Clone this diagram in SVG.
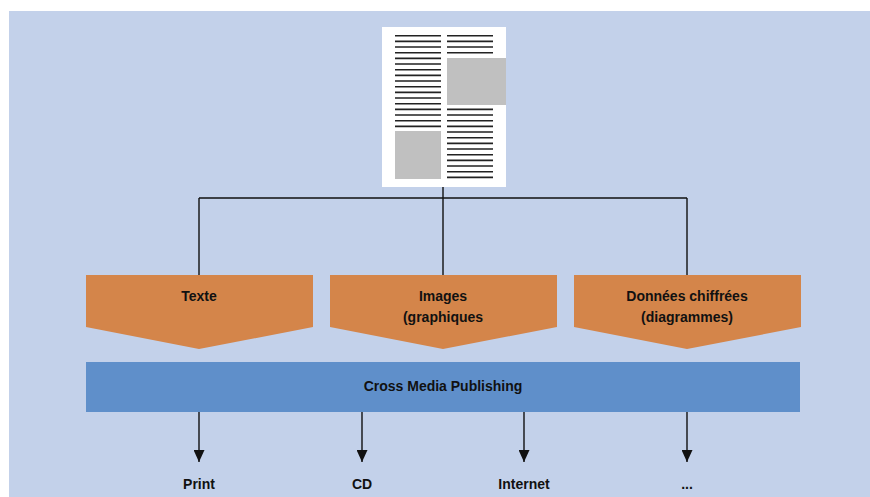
<svg xmlns="http://www.w3.org/2000/svg" width="870" height="497" viewBox="0 0 870 497">
<defs>
<style>
.lbl{font-family:"Liberation Sans",Arial,sans-serif;font-weight:bold;font-size:14px;fill:#111;text-anchor:middle}
.conn{stroke:#111;stroke-width:1.4;fill:none}
.shape{fill:#d4854a}
.tl{stroke:#222;stroke-width:1.6}
.img{fill:#c0c0c0}
</style>
<marker id="ah" viewBox="0 0 12 11" refX="12" refY="5.5" markerWidth="12" markerHeight="11" markerUnits="userSpaceOnUse" orient="auto">
<path d="M0,0 L12,5.5 L0,11 Z" fill="#111"/>
</marker>
</defs>
<rect x="0" y="0" width="870" height="497" fill="#ffffff"/>
<rect x="9" y="11" width="861" height="486" fill="#c3d1ea"/>

<g id="document">
<rect x="382" y="27" width="124" height="160" fill="#ffffff"/>
<rect class="img" x="447" y="58" width="59" height="47"/>
<rect class="img" x="395" y="131" width="46" height="48"/>
<path class="tl" d="M395,35.7h46M395,41.4h46M395,47h46M395,52.7h46M395,58.4h46M395,64h46M395,69.7h46M395,75.4h46M395,81h46M395,86.7h46M395,92.4h46M395,98h46M395,103.7h46M395,109.4h46M395,115h46M395,120.7h46M395,126.4h46"/>
<path class="tl" d="M447,35.7h46M447,41.4h46M447,47h46M447,52.7h46"/>
<path class="tl" d="M447,109.4h46M447,115h46M447,120.7h46M447,126.4h46M447,132h46M447,137.7h46M447,143.4h46M447,149h46M447,154.7h46M447,160.4h46M447,166h46M447,171.7h46M447,177.4h46"/>
</g>

<g id="connectors">
<path class="conn" d="M443,187V198M199,198H687M199,198V275M443,198V275M687,198V275"/>
<path class="conn" d="M199,412V462" marker-end="url(#ah)"/>
<path class="conn" d="M362,412V462" marker-end="url(#ah)"/>
<path class="conn" d="M524,412V462" marker-end="url(#ah)"/>
<path class="conn" d="M687,412V462" marker-end="url(#ah)"/>
</g>

<g id="texte">
<path class="shape" d="M86,275H313V327L199,349L86,327Z"/>
<text class="lbl" x="199" y="301">Texte</text>
</g>
<g id="images">
<path class="shape" d="M330,275H557V327L443,349L330,327Z"/>
<text class="lbl" x="443" y="301">Images</text>
<text class="lbl" x="443" y="322">(graphiques</text>
</g>
<g id="donnees">
<path class="shape" d="M574,275H801V327L687,349L574,327Z"/>
<text class="lbl" x="687" y="301">Données chiffrées</text>
<text class="lbl" x="687" y="322">(diagrammes)</text>
</g>

<g id="cmp">
<rect x="86" y="362" width="714" height="50" fill="#5f8fca"/>
<text class="lbl" x="443" y="391">Cross Media Publishing</text>
</g>

<g id="print"><text class="lbl" x="199" y="489">Print</text></g>
<g id="cd"><text class="lbl" x="362" y="489">CD</text></g>
<g id="internet"><text class="lbl" x="524" y="489">Internet</text></g>
<g id="more"><text class="lbl" x="687" y="489">...</text></g>
</svg>
